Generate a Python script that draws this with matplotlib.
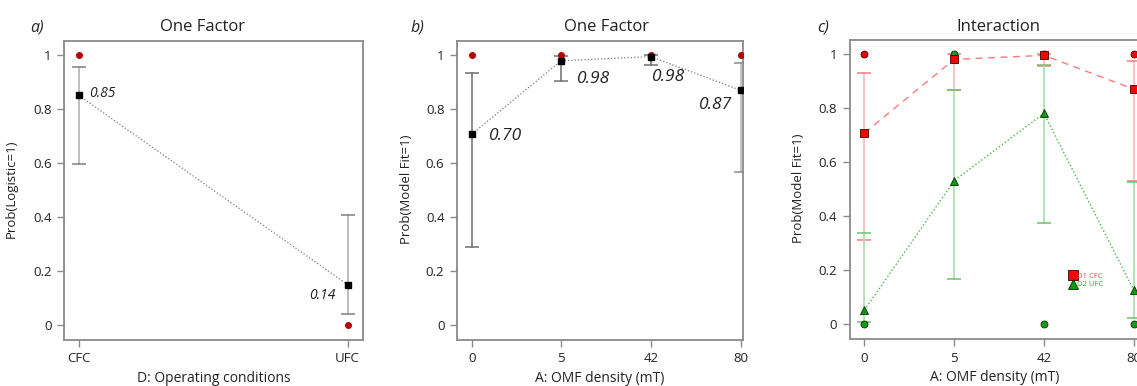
import matplotlib
matplotlib.use("Agg")
import matplotlib.pyplot as plt
from matplotlib.lines import Line2D

plt.rcParams["font.family"] = ["Open Sans", "DejaVu Sans"]

# panel a: operating conditions
cond_labels = ["CFC", "UFC"]
cond_mean = [0.85, 0.148]
cond_lo = [0.595, 0.040]
cond_hi = [0.955, 0.405]
cond_text = ["0.85", "0.14"]
cond_obs = [1.0, 0.0]

# panel b: OMF density
omf_labels = ["0", "5", "42", "80"]
omf_mean = [0.707, 0.980, 0.995, 0.870]
omf_lo = [0.290, 0.905, 0.965, 0.565]
omf_hi = [0.935, 0.998, 1.000, 0.972]
omf_text = ["0.70", "0.98", "0.98", "0.87"]
omf_obs = [1.0, 1.0, 1.0, 1.0]

# panel c: interaction
cfc_mean = [0.707, 0.980, 0.995, 0.870]
cfc_lo = [0.310, 0.865, 0.955, 0.530]
cfc_hi = [0.930, 1.000, 1.000, 0.975]
ufc_mean = [0.050, 0.530, 0.780, 0.125]
ufc_lo = [0.005, 0.165, 0.375, 0.020]
ufc_hi = [0.335, 0.865, 0.960, 0.525]
cfc_obs_x = [0, 2, 3]
cfc_obs = [1.0, 1.0, 1.0]
ufc_obs_x = [0, 1, 2, 3]
ufc_obs = [0.0, 1.0, 0.0, 0.0]

W, H = 1137, 386
fig = plt.figure(figsize=(W / 100, H / 100), dpi=100)


def px_axes(x0, y0, x1, y1):
    return fig.add_axes([x0 / W, 1 - y1 / H, (x1 - x0) / W, (y1 - y0) / H])


def style(ax, ticks, labels, xlim, ylabel, xlabel):
    ax.set_ylim(-0.057, 1.052)
    ax.set_xlim(*xlim)
    ax.set_yticks([0, 0.2, 0.4, 0.6, 0.8, 1])
    ax.set_yticklabels(["0", "0.2", "0.4", "0.6", "0.8", "1"])
    ax.set_xticks(ticks)
    ax.set_xticklabels(labels)
    for s in ax.spines.values():
        s.set_color("#8a8a8a")
        s.set_linewidth(1.3)
    ax.tick_params(direction="out", length=5, width=1, color="#8a8a8a",
                   labelsize=9.5, labelcolor="#222222", pad=4)
    ax.set_ylabel(ylabel, fontsize=9.5, color="#222222")
    ax.yaxis.set_label_coords(-0.155, 0.505)
    ax.set_xlabel(xlabel, fontsize=10, color="#222222")
    ax.xaxis.set_label_coords(0.5, -0.105)


def grey_bars(ax, x, mean, lo, hi, line_col, cap_col):
    for xi, m, l, h in zip(x, mean, lo, hi):
        ax.plot([xi, xi], [l, h], color=line_col, lw=1.4, zorder=2)
        ax.errorbar([xi], [m], yerr=[[m - l], [h - m]], fmt="none",
                    ecolor=cap_col, elinewidth=0, capsize=5, capthick=1.1,
                    zorder=2)


# ---- panel a
ax1 = px_axes(64, 41, 363, 340)
xa = list(range(len(cond_labels)))
grey_bars(ax1, xa, cond_mean, cond_lo, cond_hi, "#bdbdbd", "#808080")
ax1.plot(xa, cond_mean, ls=":", color="#7a7a7a", lw=0.9, zorder=3)
ax1.plot(xa, cond_mean, ls="none", marker="s", ms=4.6, color="black", zorder=4)
ax1.plot(xa, cond_obs, ls="none", marker="o", ms=4, color="#b40000", zorder=4)
ax1.annotate(cond_text[0], (xa[0], cond_mean[0]), xytext=(10, 2),
             textcoords="offset pixels", ha="left", va="center",
             style="italic", fontsize=10, color="#222222")
ax1.annotate(cond_text[1], (xa[1], cond_mean[1]), xytext=(-12, -11),
             textcoords="offset pixels", ha="right", va="center",
             style="italic", fontsize=10, color="#222222")
style(ax1, xa, cond_labels, (-0.055, 1.057), "Prob(Logistic=1)",
      "D: Operating conditions")

# ---- panel b
ax2 = px_axes(457, 41.3, 743.3, 340)
xb = list(range(len(omf_labels)))
grey_bars(ax2, xb[:3], omf_mean[:3], omf_lo[:3], omf_hi[:3], "#8c8c8c", "#707070")
grey_bars(ax2, xb[3:], omf_mean[3:], omf_lo[3:], omf_hi[3:], "#c4c4c4", "#8c8c8c")
ax2.plot(xb, omf_mean, ls=":", color="#7a7a7a", lw=0.9, zorder=3)
ax2.plot(xb, omf_obs, ls="none", marker="o", ms=4, color="#b40000", zorder=4)
ax2.plot(xb, omf_mean, ls="none", marker="s", ms=4.6, color="black", zorder=5)
offs = [(17, -2, "left"), (16, -18, "left"), (1, -20, "left"), (-8, -15, "right")]
for xi, m, t, (dx, dy, ha) in zip(xb, omf_mean, omf_text, offs):
    ax2.annotate(t, (xi, m), xytext=(dx, dy), textcoords="offset pixels",
                 ha=ha, va="center", style="italic", fontsize=12.5,
                 color="#222222")
style(ax2, xb, omf_labels, (-0.164, 3.03), "Prob(Model Fit=1)",
      "A: OMF density (mT)")

# ---- panel c
ax3 = px_axes(849.7, 40, 1140, 339)
xc = list(range(len(omf_labels)))
grey_bars(ax3, xc, cfc_mean, cfc_lo, cfc_hi, "#fbc4c4", "#f08080")
grey_bars(ax3, xc, ufc_mean, ufc_lo, ufc_hi, "#b5e2b5", "#6cc26c")
ax3.plot(xc, cfc_mean, ls=(0, (5, 4)), color="#ff7a7a", lw=1.0, zorder=3)
ax3.plot(xc, ufc_mean, ls=":", color="#45b845", lw=1.0, zorder=3)
ax3.plot(cfc_obs_x, cfc_obs, ls="none", marker="o", ms=5, color="#ee0000",
         mec="#550000", mew=0.6, zorder=4)
ax3.plot(ufc_obs_x, ufc_obs, ls="none", marker="o", ms=5, color="#1a9a1a",
         mec="#003300", mew=0.6, zorder=5)
ax3.plot(xc, cfc_mean, ls="none", marker="s", ms=6, color="#ff0000",
         mec="#400000", mew=0.6, zorder=6)
ax3.plot(xc, ufc_mean, ls="none", marker="^", ms=6, color="#0a9a0a",
         mec="#003300", mew=0.6, zorder=6)
handles = [
    Line2D([], [], ls="none", marker="s", ms=7, color="#ff0000", mec="#400000", mew=0.6),
    Line2D([], [], ls="none", marker="^", ms=7, color="#0a9a0a", mec="#003300", mew=0.6),
]
leg = ax3.legend(handles, ["D1 CFC", "D2 UFC"], loc="upper left",
                 bbox_to_anchor=(0.745, 0.235), frameon=False, fontsize=5.5,
                 handlelength=0.8, handletextpad=0.2, labelspacing=0.15,
                 borderpad=0)
for txt, col in zip(leg.get_texts(), ["#ff4040", "#30b030"]):
    txt.set_color(col)
style(ax3, xc, omf_labels, (-0.164, 3.071), "Prob(Model Fit=1)",
      "A: OMF density (mT)")

# panel letters and titles
for x, letter in ((37, "a)"), (417, "b)"), (823, "c)")):
    fig.text(x / W, 1 - 28 / H, letter, ha="center", va="center",
             style="italic", fontsize=11.5, color="#222222")
for x, title in ((203, "One Factor"), (606, "One Factor"), (998, "Interaction")):
    fig.text(x / W, 1 - 27 / H, title, ha="center", va="center",
             fontsize=12, color="#222222")

fig.savefig("out.png", dpi=100)
